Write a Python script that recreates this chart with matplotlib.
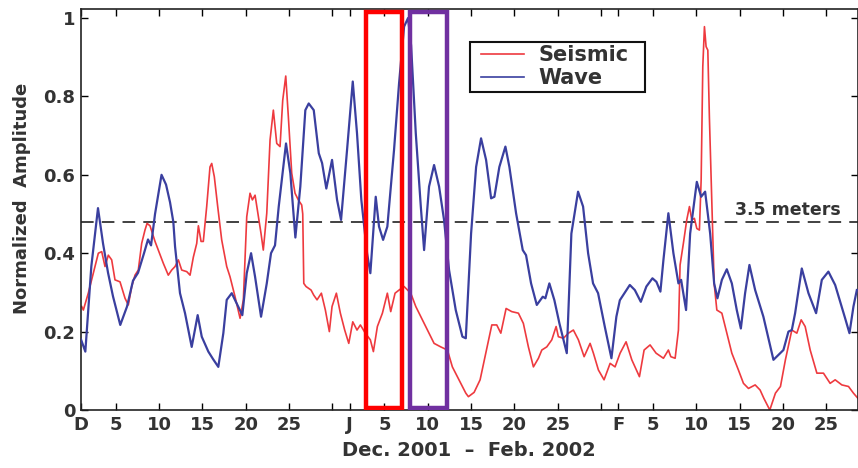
import matplotlib
matplotlib.use("Agg")
import matplotlib.pyplot as plt
from matplotlib.patches import Rectangle

plt.rcParams['font.family'] = ['DejaVu Sans']
plt.rcParams['font.weight'] = 'bold'

# ---- data (days since Dec 1, 2001) ----
wave_day = [0.0, 0.50, 1.19, 1.96, 2.54, 3.12, 3.69, 4.53, 5.31, 6.00, 6.58, 7.27, 7.73, 8.08, 8.54,
            9.29, 9.81, 10.27, 10.65, 10.85, 11.42, 12.0, 12.77, 13.46, 13.93, 14.69, 15.23, 15.84,
            16.42, 16.81, 17.39, 17.96, 18.61, 19.12, 19.62, 20.08, 20.77, 21.43, 21.92, 22.38,
            22.81, 23.65, 24.15, 24.73, 25.30, 25.88, 26.27, 26.85, 27.43, 27.81, 28.30, 28.96,
            29.54, 30.0, 30.69, 31.35, 31.84, 32.34, 33.0, 33.38, 34.0, 34.38, 34.85, 35.34, 36.11,
            36.69, 37.27, 37.73, 38.08, 38.62, 39.2, 39.58, 40.15, 40.73, 41.31, 41.88, 42.46,
            43.23, 44.0, 44.39, 45.0, 45.58, 46.15, 46.73, 47.31, 47.69, 48.26, 48.96, 49.42, 50.19,
            50.96, 51.34, 51.92, 52.58, 53.27, 53.57, 54.03, 54.61, 55.19, 56.04, 56.57, 57.34,
            57.92, 58.5, 59.07, 59.65, 60.42, 61.19, 61.76, 62.16, 63.31, 63.89, 64.58, 65.22,
            65.92, 66.38, 66.84, 67.19, 67.76, 68.34, 68.92, 69.23, 69.80, 70.27, 71.04, 71.54,
            72.0, 72.58, 73.04, 73.42, 73.93, 74.5, 75.08, 75.65, 76.12, 76.61, 77.11, 77.77,
            78.72, 79.88, 81.03, 81.61, 82.0, 82.38, 83.15, 83.92, 84.8, 85.46, 86.22, 87.0,
            88.15, 88.65, 89.11, 89.5]
wave_amp = [0.18, 0.149, 0.366, 0.515, 0.425, 0.35, 0.29, 0.217, 0.264, 0.33, 0.35, 0.40, 0.435, 0.42, 0.50,
            0.60, 0.575, 0.53, 0.48, 0.417, 0.298, 0.247, 0.161, 0.242, 0.187, 0.149, 0.13, 0.11,
            0.196, 0.281, 0.298, 0.272, 0.242, 0.349, 0.40, 0.34, 0.238, 0.323, 0.40, 0.42,
            0.519, 0.68, 0.604, 0.44, 0.57, 0.765, 0.782, 0.765, 0.655, 0.63, 0.565, 0.638,
            0.536, 0.485, 0.663, 0.838, 0.706, 0.536, 0.40, 0.349, 0.544, 0.468, 0.434, 0.468, 0.663,
            0.833, 0.978, 1.0, 0.93, 0.706, 0.519, 0.408, 0.57, 0.625, 0.57, 0.485, 0.357,
            0.255, 0.187, 0.183, 0.45, 0.62, 0.693, 0.638, 0.54, 0.544, 0.62, 0.672, 0.62, 0.502,
            0.408, 0.395, 0.323, 0.268, 0.289, 0.285, 0.323, 0.28, 0.221, 0.145, 0.45, 0.557,
            0.519, 0.40, 0.323, 0.298, 0.213, 0.132, 0.238, 0.28, 0.319, 0.306, 0.276, 0.315,
            0.336, 0.327, 0.302, 0.383, 0.502, 0.40, 0.323, 0.332, 0.255, 0.45, 0.582, 0.544,
            0.557, 0.45, 0.323, 0.285, 0.332, 0.359, 0.323, 0.255, 0.208, 0.298, 0.37, 0.306,
            0.238, 0.128, 0.153, 0.2, 0.204, 0.247, 0.361, 0.298, 0.247, 0.332, 0.353, 0.319,
            0.234, 0.196, 0.264, 0.306]

seis_day = [0.08, 0.27, 0.84, 1.42, 2.0, 2.39, 2.77, 3.15, 3.54, 3.92, 4.5, 5.08, 5.46, 5.85, 6.23,
            6.61, 7.0, 7.38, 7.62, 7.96, 8.19, 8.54, 8.92, 9.5, 10.07, 10.46, 10.85, 11.23, 11.62,
            12.2, 12.58, 12.96, 13.35, 13.54, 13.85, 14.11, 14.5, 14.88, 15.08, 15.38, 15.77, 16.23,
            16.81, 17.19, 17.77, 18.35, 18.73, 19.12, 19.5, 19.77, 20.08, 20.46, 20.77, 21.03,
            21.43, 21.81, 22.19, 22.58, 22.96, 23.27, 23.62, 23.92, 24.31, 24.69, 25.07, 25.46,
            25.58, 25.7, 25.96, 26.54, 26.85, 27.23, 27.73, 28.19, 28.65, 28.96, 29.46, 29.92,
            30.42, 30.89, 31.35, 31.84, 32.23, 32.8, 33.38, 33.73, 34.19, 34.77, 35.34, 35.73,
            36.23, 36.69, 37.27, 38.04, 38.62, 39.38, 40.15, 40.73, 41.5, 42.27, 42.84, 43.61,
            44.39, 44.69, 45.35, 46.04, 46.61, 47.39, 47.96, 48.43, 49.04, 49.69, 50.46, 51.03,
            51.61, 52.19, 52.77, 53.16, 53.73, 54.31, 54.81, 55.07, 55.65, 56.23, 56.8, 57.38,
            58.04, 58.73, 59.11, 59.69, 60.34, 61.04, 61.61, 62.19, 62.88, 63.54, 64.42, 64.96,
            65.65, 66.34, 67.19, 67.76, 68.04, 68.54, 68.92, 69.11, 69.49, 69.88, 70.19, 70.46,
            70.76, 71.04, 71.34, 71.54, 71.73, 71.92, 72.11, 72.31, 72.49, 72.77, 73.04, 73.35,
            73.93, 74.5, 75.08, 75.84, 76.42, 77.0, 77.77, 78.34, 78.77, 79.46, 80.11, 80.69,
            81.26, 81.84, 82.0, 82.58, 83.08, 83.54, 84.12, 84.89, 85.65, 86.42, 87.0, 87.77,
            88.54, 89.11, 89.62]
seis_amp = [0.264, 0.255, 0.298, 0.349, 0.40, 0.404, 0.366, 0.395, 0.383, 0.332, 0.327, 0.285, 0.268, 0.315, 0.344,
            0.357, 0.425, 0.459, 0.476, 0.47, 0.454, 0.43, 0.408, 0.374, 0.344, 0.357, 0.366, 0.383, 0.357,
            0.353, 0.344, 0.39, 0.425, 0.47, 0.43, 0.43, 0.519, 0.62, 0.629, 0.595, 0.519, 0.434,
            0.366, 0.34, 0.289, 0.234, 0.281, 0.493, 0.553, 0.536, 0.548, 0.493, 0.45, 0.408,
            0.502, 0.689, 0.765, 0.68, 0.672, 0.79, 0.852, 0.748, 0.604, 0.553, 0.536, 0.523,
            0.50, 0.323, 0.315, 0.306, 0.293, 0.281, 0.298, 0.255, 0.20, 0.264, 0.298, 0.247,
            0.204, 0.17, 0.225, 0.204, 0.217, 0.196, 0.179, 0.149, 0.213, 0.247, 0.298, 0.251,
            0.298, 0.306, 0.315, 0.298, 0.264, 0.23, 0.196, 0.17, 0.161, 0.153, 0.11, 0.077,
            0.043, 0.034, 0.045, 0.077, 0.136, 0.217, 0.217, 0.196, 0.259, 0.251, 0.247, 0.221,
            0.161, 0.11, 0.132, 0.153, 0.161, 0.179, 0.213, 0.187, 0.183, 0.196, 0.204, 0.179,
            0.136, 0.17, 0.145, 0.102, 0.077, 0.119, 0.11, 0.145, 0.174, 0.128, 0.085, 0.153,
            0.166, 0.145, 0.132, 0.153, 0.136, 0.132, 0.204, 0.37, 0.425, 0.485, 0.519, 0.485,
            0.489, 0.463, 0.459, 0.587, 0.876, 0.978, 0.927, 0.918, 0.748, 0.536, 0.323, 0.255,
            0.247, 0.196, 0.145, 0.102, 0.068, 0.055, 0.064, 0.051, 0.03, 0.0, 0.043, 0.06,
            0.128, 0.187, 0.204, 0.196, 0.23, 0.213, 0.153, 0.094, 0.094, 0.068, 0.077, 0.064,
            0.06, 0.043, 0.03]

xtick_days = [0, 4, 9, 14, 19, 24, 29, 31, 35, 40, 45, 50, 55, 60, 62, 66, 71, 76, 81, 86]
xtick_labels = ['D', '5', '10', '15', '20', '25', '', 'J', '5', '10', '15', '20', '25', '',
                'F', '5', '10', '15', '20', '25']
ytick_vals = [0, 0.2, 0.4, 0.6, 0.8, 1.0]
ytick_labels = ['0', '0.2', '0.4', '0.6', '0.8', '1']
threshold = 0.48
red_box = (32.92, 37.07)
purple_box = (37.93, 42.26)

W, H = 858, 468
fig = plt.figure(figsize=(W / 100, H / 100), dpi=100)
ax = fig.add_axes([81 / W, 58 / H, (857.7 - 81) / W, (410 - 9) / H])

txt = '#333333'
ax.plot(seis_day, seis_amp, color='#ee3a3f', lw=1.2, label='Seismic', zorder=2)
ax.plot(wave_day, wave_amp, color='#3a3f9f', lw=1.6, label='Wave', zorder=3)
ax.axhline(threshold, color='#333333', lw=1.3, ls=(0, (7, 4.5)), zorder=1)
ax.text(75.5, threshold + 0.006, '3.5 meters', fontsize=12.5, fontweight='bold',
        color=txt, ha='left', va='bottom')

for (x0, x1), col in [(red_box, '#ff0000'), (purple_box, '#7030a0')]:
    ax.add_patch(Rectangle((x0, 0.005), x1 - x0, 1.011, fill=False, edgecolor=col,
                           lw=3.2, zorder=5, joinstyle='miter'))

ax.set_xlim(0, 89.6)
ax.set_ylim(0, 1.023)
ax.set_xticks(xtick_days)
ax.set_xticklabels(xtick_labels)
ax.set_yticks(ytick_vals)
ax.set_yticklabels(ytick_labels)
ax.tick_params(direction='in', length=5, width=1, top=True, right=True,
               labelsize=13, labelcolor=txt, pad=4)
for lab in ax.get_xticklabels() + ax.get_yticklabels():
    lab.set_fontweight('bold')
for s in ax.spines.values():
    s.set_color('#222222')
    s.set_linewidth(1.2)

ax.set_ylabel('Normalized  Amplitude', fontsize=13, fontweight='bold', color=txt)
ax.yaxis.set_label_coords(-0.065, 0.527)
ax.set_xlabel('Dec. 2001  \u2013  Feb. 2002', fontsize=14, fontweight='bold', color=txt, labelpad=5)

# legend frame drawn as a plain rectangle (figure pixels), entries on top without frame
ax.add_patch(Rectangle((470 / W, 1 - 92 / H), 175 / W, 50 / H, transform=fig.transFigure,
                       fill=True, facecolor='white', edgecolor='#111111', lw=1.5,
                       zorder=6, clip_on=False))
leg = ax.legend(loc='upper left', bbox_to_anchor=(481 / W, 1 - 45 / H),
                bbox_transform=fig.transFigure, borderaxespad=0, frameon=False,
                handlelength=2.05, handletextpad=0.72, borderpad=0.0, labelspacing=0.15,
                prop={'weight': 'bold', 'size': 15})
leg.set_zorder(7)
for t in leg.get_texts():
    t.set_color(txt)
for l in leg.get_lines():
    l.set_linewidth(1.2)

fig.savefig('out.png', dpi=100)
